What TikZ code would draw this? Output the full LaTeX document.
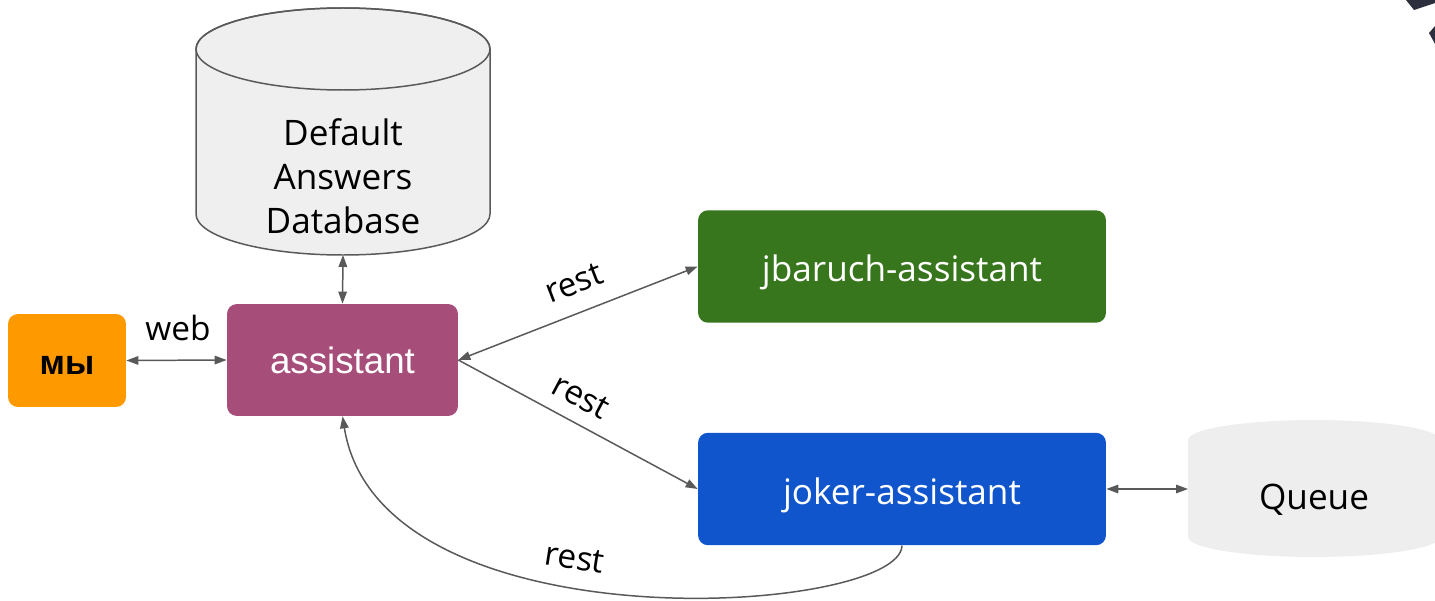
\documentclass[tikz,border=0pt]{standalone}
\usepackage{fontspec}
\setmainfont{Open Sans}
\newfontfamily\arialfont{Liberation Sans}
\usetikzlibrary{arrows.meta}

\definecolor{meorange}{HTML}{FF9900}
\definecolor{assistpink}{HTML}{A64D79}
\definecolor{jbgreen}{HTML}{38761D}
\definecolor{jokerblue}{HTML}{1155CC}
\definecolor{linegray}{HTML}{595959}
\definecolor{dbgray}{HTML}{EFEFEF}
\definecolor{qgray}{HTML}{EEEEEE}
\definecolor{fragdark}{HTML}{2E2F3E}

\tikzset{
  svc/.style={rounded corners=0.2cm, minimum width=8.16cm, minimum height=2.25cm,
    inner sep=0, text=white, text height=17.6pt, text depth=0pt, font=\fontsize{20}{24}\selectfont},
  hold/.style={inner sep=0, outer sep=0},
  tip/.tip={Triangle[length=0.24cm,width=0.17cm]},
  conn/.style={draw=linegray, line width=0.85pt, -tip},
  biconn/.style={conn, tip-tip},
  lbl/.style={font=\fontsize{19}{23}\selectfont},
  cyltext/.style={align=center, font=\fontsize{20}{25}\selectfont}
}

\begin{document}
\begin{tikzpicture}[x=0.02cm,y=-0.02cm]
    \useasboundingbox (0,0) rectangle (1435,601);
    \clip (0,0) rectangle (1435,601);

%database
    \path[fill=dbgray, draw=linegray, line width=0.85pt] (196,49) -- (196,214)
        arc[start angle=180, end angle=0, x radius=147, y radius=41] -- (490,49)
        arc[start angle=0, end angle=-180, x radius=147, y radius=41] -- cycle;
    \draw[linegray, line width=0.85pt] (343,49) ellipse [x radius=147, y radius=41];
    \node[hold, minimum width=5.88cm, minimum height=4.94cm] (db) at (343,131.5) {};
    \node[cyltext] (dbtext) at (343,176) {Default\\Answers\\Database};

%queue
    \fill[qgray] (1188,440) -- (1188,537)
        arc[start angle=180, end angle=0, x radius=126, y radius=20] -- (1440,440)
        arc[start angle=0, end angle=-180, x radius=126, y radius=20] -- cycle;
    \node[hold, minimum width=5.04cm, minimum height=2.76cm] (queue) at (1314,489) {};
    \node[cyltext] (queuetext) at (1314,500) {Queue};

%services
    \node[fill=meorange, rounded corners=0.2cm, minimum width=2.36cm, minimum height=1.86cm,
        inner sep=0, text height=16.4pt, text depth=0pt, font=\arialfont\fontsize{19.5}{24}\selectfont\bfseries] (me) at (67,360.5) {мы};
    \node[svc, fill=assistpink, minimum width=4.62cm, minimum height=2.24cm, text height=15.9pt,
        font=\arialfont\fontsize{20.9}{25}\selectfont] (assistant) at (342.5,360) {assistant};
    \node[svc, fill=jbgreen] (jbaruch) at (902,266.5) {jbaruch-assistant};
    \node[svc, fill=jokerblue] (joker) at (902,489) {joker-assistant};

%links
    \draw[biconn] (db.south) -- (assistant.north);
    \draw[biconn] (me.east) -- (assistant.west);
    \draw[biconn] (assistant.east) -- (jbaruch.west);
    \draw[conn] (assistant.east) -- (joker.west);
    \draw[biconn] (joker.east) -- (queue.west);
    \draw[conn] (joker.south) .. controls (900,615) and (380,650) .. (assistant.south);

    \node[lbl] (web) at (178,328) {web};
    \node[lbl, rotate=21] (rest1) at (574,283) {rest};
    \node[lbl, rotate=-28] (rest2) at (581,397) {rest};
    \node[lbl, rotate=-9] (rest3) at (575,558) {rest};

%cut off picture, top right
    \fill[fragdark] (1406,0) -- (1435,0) -- (1435,3) -- (1414,10) -- cycle;
    \fill[fragdark] (1435,26) -- (1429,33) -- (1435,44) -- cycle;
\end{tikzpicture}
\end{document}
